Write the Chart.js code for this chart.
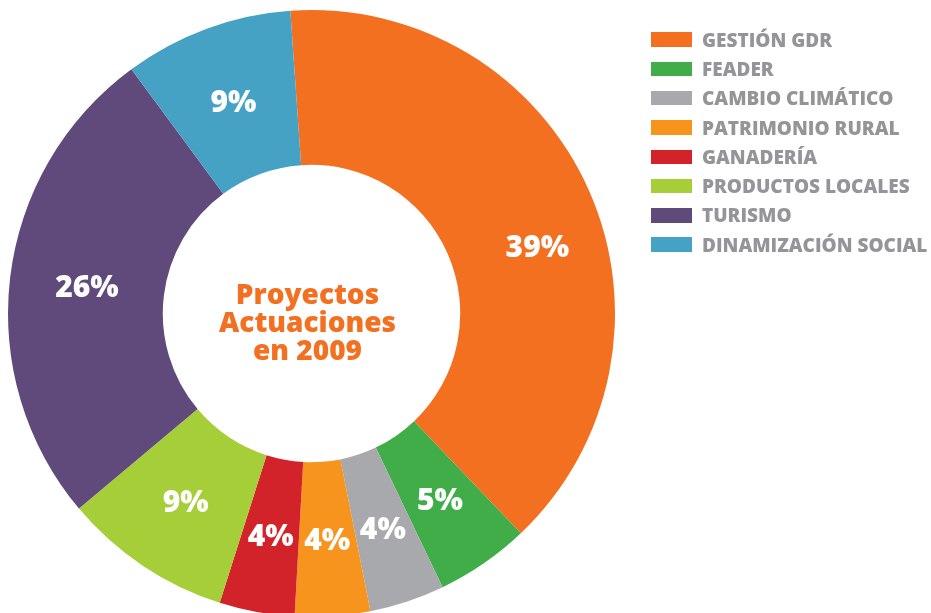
<!DOCTYPE html>
<html lang="es">
<head>
<meta charset="utf-8">
<title>Proyectos Actuaciones en 2009</title>
<script src="https://cdn.jsdelivr.net/npm/chart.js@4/dist/chart.umd.min.js"></script>
<style>
    html, body { margin: 0; padding: 0; background: #fff; overflow: hidden; }
    #wrap { position: relative; width: 931px; height: 613px; overflow: hidden; }
    #pie { position: absolute; left: 0; top: 0; }
    .legend { position: absolute; left: 651px; top: 25px; margin: 0; padding: 0; list-style: none; }
    .legend li { height: 29.3px; display: flex; align-items: center; white-space: nowrap;
        font-family: "Open Sans", sans-serif; font-weight: 800; font-size: 19px; color: #939598; }
    .legend .box { width: 41px; height: 14.5px; margin-right: 10px; flex: none; }
</style>
</head>
<body>
<div id="wrap">
    <canvas id="pie" width="931" height="620"></canvas>
    <ul class="legend" id="legend"></ul>
</div>
<script>
const categories = ['GESTIÓN GDR', 'FEADER', 'CAMBIO CLIMÁTICO', 'PATRIMONIO RURAL',
    'GANADERÍA', 'PRODUCTOS LOCALES', 'TURISMO', 'DINAMIZACIÓN SOCIAL'];
const shares = [39, 5, 4, 4, 4, 9, 26, 9];
const sliceColors = ['#f37021', '#41ad49', '#a7a9ac', '#f7941d',
    '#d2232a', '#a6ce39', '#5f4a7b', '#46a2c4'];
const centerLines = ['Proyectos', 'Actuaciones', 'en 2009'];

// legend list on the right
const legend = document.getElementById('legend');
categories.forEach((name, i) => {
    const li = document.createElement('li');
    const box = document.createElement('span');
    box.className = 'box';
    box.style.background = sliceColors[i];
    li.appendChild(box);
    li.appendChild(document.createTextNode(name));
    legend.appendChild(li);
});

// white percentages inside each slice, plus the title in the hole
const labelNudge = { 0: [19, 24] };
const sliceLabels = {
    id: 'sliceLabels',
    afterDatasetsDraw(chart) {
        const { ctx } = chart;
        const meta = chart.getDatasetMeta(0);
        ctx.save();
        ctx.font = '800 30px "Open Sans", sans-serif';
        ctx.fillStyle = '#fff';
        ctx.textAlign = 'center';
        ctx.textBaseline = 'middle';
        meta.data.forEach((arc, i) => {
            const p = arc.getCenterPoint();
            const [dx, dy] = labelNudge[i] || [0, 0];
            ctx.fillText(shares[i] + '%', p.x + dx, p.y + dy + 2);
        });

        const cx = meta.data[0].x - 4;
        const cy = meta.data[0].y;
        ctx.font = '800 28px "Open Sans", sans-serif';
        ctx.fillStyle = '#f37021';
        ctx.textBaseline = 'alphabetic';
        centerLines.forEach((line, i) => {
            ctx.fillText(line, cx, cy - 10 + i * 28);
        });
        ctx.restore();
    }
};

new Chart(document.getElementById('pie'), {
    type: 'doughnut',
    data: {
        labels: categories,
        datasets: [{
            data: shares,
            backgroundColor: sliceColors,
            borderWidth: 0
        }]
    },
    options: {
        responsive: false,
        animation: false,
        devicePixelRatio: 1,
        rotation: -4,
        cutout: '49%',
        layout: { padding: { left: 8, top: 10, right: 316, bottom: 3 } },
        plugins: {
            legend: { display: false },
            tooltip: { enabled: false }
        }
    },
    plugins: [sliceLabels]
});
</script>
</body>
</html>
